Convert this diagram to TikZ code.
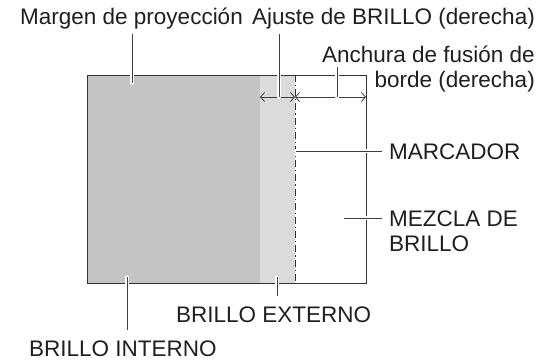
\documentclass[tikz,border=0pt]{standalone}
\usepackage{fontspec}
\setmainfont{Liberation Sans}
\usetikzlibrary{arrows.meta}

\begin{document}
\begin{tikzpicture}[x=1pt, y=-1pt,
    every node/.style={font=\fontsize{22.5}{25}\selectfont, inner sep=0pt, text=black!88},
    borde/.style={draw=black!80, line width=0.9pt},
    guia/.style={draw=black!75, line width=0.9pt, preaction={draw=white, line width=3.2pt, line cap=round}},
    cota/.style={draw=black!75, line width=0.8pt, {Straight Barb[length=4pt,width=9pt]}-{Straight Barb[length=4pt,width=9pt]}}]
    \useasboundingbox (0,0) rectangle (552,360);

    % zonas de brillo
    \fill[black!23] (87,75) rectangle (260,283);
    \fill[black!14] (260,75) rectangle (295,283);
    \draw[borde] (87,75) rectangle (366,283);
    \draw[borde, dash pattern=on 7pt off 3pt on 1.2pt off 3pt] (295,75) -- (295,283);

    % cotas
    \coordinate (izq) at (260,97);
    \coordinate (marca) at (295,97);
    \coordinate (der) at (366,97);
    \draw[cota] (marca) -- (izq);
    \draw[cota] (marca) -- (der);

    % textos
    \node[anchor=base west] (margen) at (20,24) {Margen de proyección};
    \node[anchor=base east] (ajuste) at (535,24) {Ajuste de BRILLO (derecha)};
    \node[anchor=base east, align=right] (anchura) at (535,87) {Anchura de fusión de\\borde (derecha)};
    \node[anchor=base west] (marcador) at (389,159) {MARCADOR};
    \node[anchor=base west, align=left] (mezcla) at (389,251) {MEZCLA DE\\BRILLO};
    \node[anchor=base west] (externo) at (176,322) {BRILLO EXTERNO};
    \node[anchor=base west] (interno) at (29,356) {BRILLO INTERNO};

    % lineas guia
    \coordinate (p-margen) at (132,83);
    \coordinate (p-ajuste) at (279,97);
    \coordinate (p-anchura) at (337,67);
    \coordinate (p-marcador) at (296,151);
    \coordinate (p-mezcla) at (344,218);
    \coordinate (p-externo) at (277,277);
    \coordinate (p-interno) at (127,277);
    \draw[guia, shorten <=5pt] (p-margen |- margen.south) -- (p-margen);
    \draw[guia, shorten <=5pt] (p-ajuste |- ajuste.south) -- (p-ajuste);
    \draw[guia] (p-anchura) -- (p-anchura |- marca);
    \draw[guia, shorten >=7pt] (p-marcador) -- (p-marcador -| marcador.west);
    \draw[guia] (p-mezcla) -- ([xshift=-7pt]p-mezcla -| mezcla.west);
    \draw[guia, shorten >=10pt] (p-externo) -- (p-externo |- externo.north);
    \draw[guia, shorten >=10pt] (p-interno) -- (p-interno |- interno.north);
\end{tikzpicture}
\end{document}
